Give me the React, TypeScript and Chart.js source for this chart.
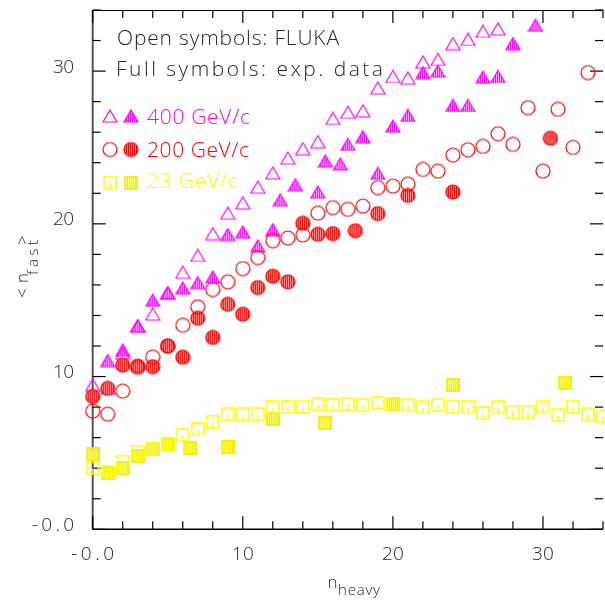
import React, { useEffect, useRef } from "react";
import { Chart, registerables } from "chart.js";

Chart.register(...registerables);

// Axis ranges
const X_MIN = 0;
const X_MAX = 33.6;
const X_FRAME = 34;
const Y_MIN = 0;
const Y_MAX = 34;

const xTickValues = [0, 10, 20, 30];
const xTickLabels = ["-0.0", "10", "20", "30"];
const yTickValues = [0, 10, 20, 30];
const yTickLabels = ["-0.0", "10", "20", "30"];

// 400 GeV/c — FLUKA (open triangles)
const fluka400X = [0, 1, 2, 3, 4, 5, 6, 7, 8, 9, 10, 11, 12, 13, 14, 15, 16, 17, 18, 19, 20, 21, 22, 23, 24, 25, 26, 27];
const fluka400Y = [9.45, 9.25, 11.55, 13.3, 14.1, 15.5, 16.83, 17.93, 19.36, 20.7, 21.38, 22.4, 23.33, 24.3, 24.92, 25.38, 26.9, 27.3, 27.4, 28.9, 29.65, 29.56, 30.6, 30.76, 31.8, 32.07, 32.6, 32.77];

// 400 GeV/c — experimental data (full triangles)
const exp400X = [1, 2, 3, 4, 5, 6, 7, 8, 9, 10, 11, 12, 12.5, 13.5, 15, 15.5, 16.5, 17, 18, 19, 20, 21, 22, 23, 24, 25, 26, 27, 28, 29.5];
const exp400Y = [11.05, 11.73, 13.33, 15.0, 15.47, 15.8, 16.15, 16.52, 19.3, 19.47, 18.55, 19.62, 21.58, 22.56, 22.08, 24.12, 23.92, 25.2, 25.7, 23.3, 26.4, 27.1, 29.9, 30.0, 27.75, 27.75, 29.6, 29.65, 31.8, 33.0];

// 200 GeV/c — FLUKA (open circles)
const fluka200X = [0, 1, 2, 3, 4, 5, 6, 7, 8, 9, 10, 11, 12, 13, 14, 15, 16, 17, 18, 19, 20, 21, 22, 23, 24, 25, 26, 27, 28, 29, 30, 31, 32, 33];
const fluka200Y = [7.74, 7.54, 9.05, 10.6, 11.28, 12.0, 13.36, 14.56, 15.7, 16.2, 17.07, 17.79, 18.9, 19.07, 19.27, 20.7, 21.06, 20.95, 21.16, 22.37, 22.47, 22.6, 23.56, 23.45, 24.5, 24.85, 25.07, 25.9, 25.2, 27.6, 23.45, 27.5, 25.0, 29.9];

// 200 GeV/c — experimental data (full circles)
const exp200X = [0, 1, 2, 3, 4, 5, 6, 7, 8, 9, 10, 11, 12, 13, 14, 15, 16, 17.5, 19, 21, 24, 30.5];
const exp200Y = [8.7, 9.22, 10.75, 10.68, 10.65, 12.0, 11.27, 13.82, 12.56, 14.73, 14.08, 15.83, 16.57, 16.2, 20.03, 19.31, 19.36, 19.55, 20.67, 21.86, 22.08, 25.6];

// 23 GeV/c — FLUKA (open squares)
const fluka23X = [0, 1, 2, 3, 4, 5, 6, 7, 8, 9, 10, 11, 12, 13, 14, 15, 16, 17, 18, 19, 20, 21, 22, 23, 24, 25, 26, 27, 28, 29, 30, 31, 32, 33, 34];
const fluka23Y = [3.99, 3.75, 4.42, 5.08, 5.25, 5.6, 6.17, 6.54, 7.04, 7.52, 7.52, 7.52, 7.98, 7.98, 8.02, 8.19, 8.13, 8.19, 8.13, 8.28, 8.19, 8.13, 7.98, 8.13, 8.02, 7.98, 7.59, 7.98, 7.69, 7.69, 7.98, 7.48, 8.02, 7.54, 7.4];

// 23 GeV/c — experimental data (full squares)
const exp23X = [0, 1, 2, 3, 4, 5, 6.5, 9, 12, 15.5, 20, 24, 31.5];
const exp23Y = [4.9, 3.7, 3.99, 4.8, 5.25, 5.56, 5.34, 5.4, 7.21, 6.97, 8.19, 9.44, 9.61];

const MAGENTA = "#ff00ff";
const RED = "#ff0000";
const YELLOW = "#ffff00";
const INK = "#262626";

const FAMILY = "'Open Sans', 'Liberation Sans', sans-serif";
const font = (px: number) => `300 ${px}px ${FAMILY}`;

function toPoints(xs: number[], ys: number[]) {
  return xs.map((x, i) => ({ x, y: ys[i] }));
}

function makeCanvas(w: number, h: number) {
  const c = document.createElement("canvas");
  c.width = w;
  c.height = h;
  return c;
}

function hatch(ctx: CanvasRenderingContext2D, w: number, h: number, color: string, step: number) {
  ctx.strokeStyle = color;
  ctx.lineWidth = 1;
  for (let x = 1.5; x < w; x += step) {
    ctx.beginPath();
    ctx.moveTo(x, 0);
    ctx.lineTo(x, h);
    ctx.stroke();
  }
}

function triangleMarker(filled: boolean) {
  const w = 16, h = 14;
  const c = makeCanvas(w, h);
  const ctx = c.getContext("2d")!;
  const path = () => {
    ctx.beginPath();
    ctx.moveTo(w / 2, 1);
    ctx.lineTo(w - 1, h - 1);
    ctx.lineTo(1, h - 1);
    ctx.closePath();
  };
  if (filled) {
    ctx.save();
    path();
    ctx.fillStyle = "#ffb0ff";
    ctx.fill();
    ctx.clip();
    hatch(ctx, w, h, MAGENTA, 2);
    ctx.restore();
  }
  path();
  ctx.strokeStyle = MAGENTA;
  ctx.lineWidth = 1.2;
  ctx.stroke();
  return c;
}

function circleMarker(filled: boolean) {
  const s = 16;
  const c = makeCanvas(s, s);
  const ctx = c.getContext("2d")!;
  const path = () => {
    ctx.beginPath();
    ctx.arc(s / 2, s / 2, 7, 0, Math.PI * 2);
  };
  if (filled) {
    ctx.save();
    path();
    ctx.fillStyle = "#ff9a9a";
    ctx.fill();
    ctx.clip();
    hatch(ctx, s, s, RED, 2);
    ctx.restore();
  }
  path();
  ctx.strokeStyle = RED;
  ctx.lineWidth = 1.2;
  ctx.stroke();
  return c;
}

function squareMarker(filled: boolean) {
  const s = 14;
  const c = makeCanvas(s, s);
  const ctx = c.getContext("2d")!;
  if (filled) {
    ctx.fillStyle = "#ffff80";
    ctx.fillRect(1, 1, s - 2, s - 2);
    hatch(ctx, s, s, "#eeee00", 2);
  } else {
    ctx.strokeStyle = YELLOW;
    ctx.lineWidth = 1.5;
    ctx.beginPath();
    ctx.moveTo(s / 2, s - 1);
    ctx.lineTo(s / 2, s / 2);
    ctx.stroke();
  }
  ctx.strokeStyle = filled ? "#eeee00" : YELLOW;
  ctx.lineWidth = 1.5;
  ctx.strokeRect(1, 1, s - 2, s - 2);
  return c;
}

// Draws text left-aligned at x so that it spans the given width
function spreadText(ctx: any, text: string, x: number, y: number, width: number) {
  ctx.letterSpacing = "0px";
  const w = ctx.measureText(text).width;
  const gaps = Math.max(text.length - 1, 1);
  const sp = (width - w) / gaps;
  ctx.letterSpacing = `${sp}px`;
  ctx.textAlign = "left";
  ctx.fillText(text, x, y);
  ctx.letterSpacing = "0px";
}

export default function App() {
  const canvasRef = useRef<HTMLCanvasElement | null>(null);

  useEffect(() => {
    const canvas = canvasRef.current;
    if (!canvas) return;

    const markers = {
      triOpen: triangleMarker(false),
      triFull: triangleMarker(true),
      cirOpen: circleMarker(false),
      cirFull: circleMarker(true),
      sqOpen: squareMarker(false),
      sqFull: squareMarker(true),
    };

    const line = (ctx: CanvasRenderingContext2D, x1: number, y1: number, x2: number, y2: number) => {
      ctx.beginPath();
      ctx.moveTo(x1, y1);
      ctx.lineTo(x2, y2);
      ctx.stroke();
    };

    const framePlugin = {
      id: "frameAxes",
      beforeDatasetsDraw(chart: any) {
        const { ctx, chartArea: a, scales } = chart;
        const xs = scales.x;
        const ys = scales.y;
        const right = xs.getPixelForValue(X_FRAME);
        ctx.save();
        ctx.strokeStyle = "#000";
        ctx.lineWidth = 1;
        line(ctx, a.left, a.top + 0.5, right, a.top + 0.5);
        ctx.lineWidth = 1.5;
        line(ctx, a.left, a.bottom, right, a.bottom);
        ctx.strokeStyle = "#555";
        ctx.lineWidth = 2;
        line(ctx, a.left, a.top, a.left, a.bottom);
        ctx.strokeStyle = "#000";
        ctx.lineWidth = 1.2;
        for (let v = X_MIN; v <= X_FRAME + 0.001; v += 2) {
          const px = xs.getPixelForValue(v);
          const major = v % 10 === 0;
          const len = major ? 13 : 8;
          line(ctx, px, a.bottom, px, a.bottom - len);
          line(ctx, px, a.top, px, a.top + len);
        }
        for (let v = Y_MIN; v <= Y_MAX + 0.001; v += 2) {
          const py = ys.getPixelForValue(v);
          const major = v % 10 === 0;
          const len = major ? 13 : 8;
          line(ctx, a.left, py, a.left + len, py);
          line(ctx, right, py, right - len, py);
        }
        ctx.restore();
      },
      afterDraw(chart: any) {
        const { ctx, scales } = chart;
        const xs = scales.x;
        const ys = scales.y;
        ctx.save();
        ctx.fillStyle = INK;
        ctx.textBaseline = "alphabetic";

        // tick labels
        ctx.font = font(19);
        yTickValues.forEach((v, i) => {
          const label = yTickLabels[i];
          const target = label.length === 4 ? 42 : 21;
          spreadText(ctx, label, 74 - target, ys.getPixelForValue(v) + 1.5, target);
        });
        xTickValues.forEach((v, i) => {
          const label = xTickLabels[i];
          const target = label.length === 4 ? 43 : 22;
          spreadText(ctx, label, xs.getPixelForValue(v) - target / 2, 560, target);
        });

        // x title: n_heavy
        ctx.font = font(17);
        spreadText(ctx, "n", 327.5, 588, 9);
        ctx.font = font(15);
        spreadText(ctx, "heavy", 338, 595, 42);

        // y title: <n_fast>
        ctx.save();
        ctx.translate(28, 298);
        ctx.rotate(-Math.PI / 2);
        ctx.font = font(17);
        spreadText(ctx, "<n", 0, 0, 25);
        ctx.font = font(15);
        spreadText(ctx, "fast", 23, 10, 35);
        ctx.font = font(17);
        spreadText(ctx, ">", 53, 0, 10);
        ctx.restore();

        // notes
        ctx.font = font(21);
        ctx.fillStyle = INK;
        spreadText(ctx, "Open symbols: FLUKA", 117, 45, 222);
        spreadText(ctx, "Full symbols: exp. data", 116, 76, 267);

        // legend
        const legend = [
          { open: markers.triOpen, full: markers.triFull, color: MAGENTA, text: "400 GeV/c", y: 116, base: 124, width: 103 },
          { open: markers.cirOpen, full: markers.cirFull, color: RED, text: "200 GeV/c", y: 149.5, base: 157, width: 102 },
          { open: markers.sqOpen, full: markers.sqFull, color: YELLOW, text: "23 GeV/c", y: 182.5, base: 188, width: 91 },
        ];
        legend.forEach((row) => {
          ctx.drawImage(row.open, 110 - row.open.width / 2, row.y - row.open.height / 2);
          ctx.drawImage(row.full, 131 - row.full.width / 2, row.y - row.full.height / 2);
          ctx.fillStyle = row.color;
          spreadText(ctx, row.text, 147, row.base, row.width);
        });
        ctx.restore();
      },
    };

    const ds = (label: string, data: { x: number; y: number }[], style: HTMLCanvasElement) => ({
      label,
      data,
      pointStyle: style,
      pointRadius: 7,
      pointHoverRadius: 7,
      showLine: false,
      clip: false as any,
    });

    const chart = new Chart(canvas, {
      type: "scatter",
      data: {
        datasets: [
          ds("23 GeV/c FLUKA", toPoints(fluka23X, fluka23Y), markers.sqOpen),
          ds("23 GeV/c exp.", toPoints(exp23X, exp23Y), markers.sqFull),
          ds("200 GeV/c FLUKA", toPoints(fluka200X, fluka200Y), markers.cirOpen),
          ds("200 GeV/c exp.", toPoints(exp200X, exp200Y), markers.cirFull),
          ds("400 GeV/c FLUKA", toPoints(fluka400X, fluka400Y), markers.triOpen),
          ds("400 GeV/c exp.", toPoints(exp400X, exp400Y), markers.triFull),
        ],
      },
      options: {
        animation: false,
        responsive: false,
        devicePixelRatio: 1,
        layout: { padding: { left: 92.7, right: 0, top: 10, bottom: 73.7 } },
        plugins: { legend: { display: false }, tooltip: { enabled: false } },
        scales: {
          x: { type: "linear", min: X_MIN, max: X_MAX, display: false },
          y: { type: "linear", min: Y_MIN, max: Y_MAX, display: false },
        },
      },
      plugins: [framePlugin],
    });

    return () => chart.destroy();
  }, []);

  return (
    <div style={{ position: "absolute", left: 0, top: 0, width: 605, height: 603, background: "#fff" }}>
      <canvas ref={canvasRef} width={605} height={603} style={{ display: "block", width: 605, height: 603 }} />
    </div>
  );
}
